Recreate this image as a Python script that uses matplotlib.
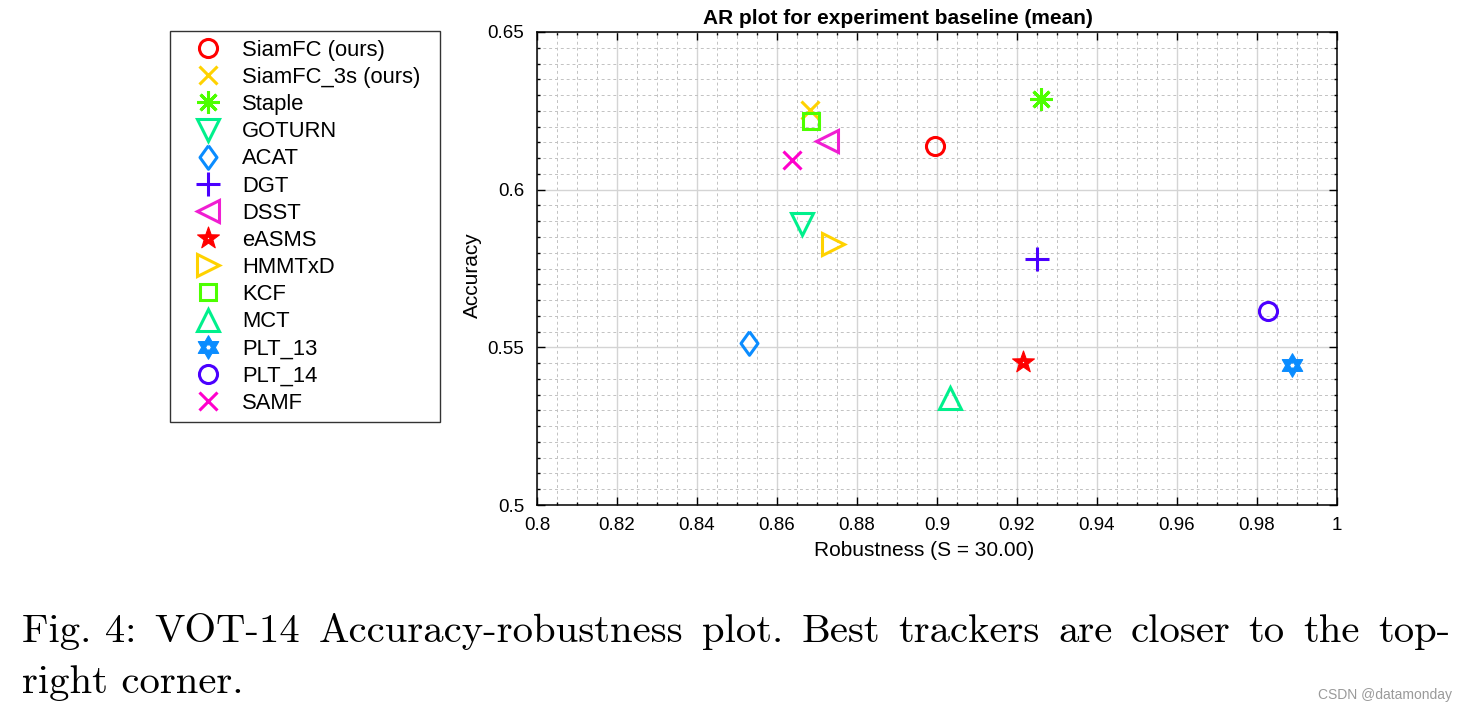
import numpy as np
import matplotlib
matplotlib.use("Agg")
import matplotlib.pyplot as plt
from matplotlib.path import Path
from matplotlib.ticker import MultipleLocator, FuncFormatter

# ---------------------------------------------------------------------
# data
# ---------------------------------------------------------------------
trackers = ["SiamFC (ours)", "SiamFC_3s (ours)", "Staple", "GOTURN", "ACAT",
            "DGT", "DSST", "eASMS", "HMMTxD", "KCF", "MCT", "PLT_13",
            "PLT_14", "SAMF"]
robustness = [0.8995, 0.8682, 0.9260, 0.8662, 0.8530, 0.9251, 0.8724,
              0.9216, 0.8740, 0.8685, 0.9033, 0.9888, 0.9828, 0.8638]
accuracy = [0.6138, 0.6254, 0.6287, 0.5891, 0.5515, 0.5779, 0.6155,
            0.5454, 0.5828, 0.6219, 0.5338, 0.5444, 0.5615, 0.6094]

x_ticks = [0.8, 0.82, 0.84, 0.86, 0.88, 0.9, 0.92, 0.94, 0.96, 0.98, 1.0]
y_ticks = [0.5, 0.55, 0.6, 0.65]


# ---------------------------------------------------------------------
# marker shapes (matlab-like pentagram / hexagram with small white hole)
# ---------------------------------------------------------------------
def star_with_hole(n, r_in, r_hole):
    k = np.arange(2 * n)
    ang = np.pi / 2 + k * np.pi / n
    rad = np.where(k % 2 == 0, 1.0, r_in)
    outer = np.column_stack([rad * np.cos(ang), rad * np.sin(ang)])
    hang = np.pi / 2 + np.pi / n + np.arange(n) * 2 * np.pi / n
    hole = np.column_stack([r_hole * np.cos(hang), r_hole * np.sin(hang)])[::-1]
    verts = np.vstack([outer, outer[:1], hole, hole[:1]])
    codes = ([Path.MOVETO] + [Path.LINETO] * (2 * n - 1) + [Path.CLOSEPOLY] +
             [Path.MOVETO] + [Path.LINETO] * (n - 1) + [Path.CLOSEPOLY])
    return Path(verts, codes)


pentagram = star_with_hole(5, 0.40, 0.13)
hexagram = star_with_hole(6, 0.577, 0.25)
diamond = [(0, 1), (0.72, 0), (0, -1), (-0.72, 0), (0, 1)]

markers = ["o", "x", (8, 2, 0), "v", diamond, "+", "<", pentagram, ">", "s",
           "^", hexagram, "o", "x"]
sizes = [13, 12.5, 16, 16, 17, 17, 16, 16.5, 16, 11.5, 16, 17, 13, 12.5]
filled = [False, False, False, False, False, False, False, True, False,
          False, False, True, False, False]
colors = ["#FF0000", "#FFD200", "#4DFF00", "#00F08C", "#0A8CFF", "#4B00FF",
          "#F01ED2", "#FF0000", "#FFD200", "#4DFF00", "#00F08C", "#0A8CFF",
          "#4B00FF", "#FF00CC"]

plt.rcParams["font.family"] = ["Liberation Sans", "DejaVu Sans"]

W, H = 1467, 713
fig = plt.figure(figsize=(W / 100, H / 100), dpi=100)
ax = fig.add_axes([537 / W, 1 - 505 / H, 800 / W, 473 / H])

handles = []
for name, xv, yv, m, s, f, c in zip(trackers, robustness, accuracy, markers,
                                    sizes, filled, colors):
    h, = ax.plot([xv], [yv], linestyle="none", marker=m, markersize=s,
                 markerfacecolor=c if f else "none", markeredgecolor=c,
                 markeredgewidth=0.8 if f else 2.2, label=name, zorder=3)
    handles.append(h)

ax.set_xlim(0.8, 1.0)
ax.set_ylim(0.5, 0.65)
ax.set_xticks(x_ticks)
ax.set_yticks(y_ticks)
fmt = FuncFormatter(lambda v, p: f"{v:g}")
ax.xaxis.set_major_formatter(fmt)
ax.yaxis.set_major_formatter(fmt)
ax.xaxis.set_minor_locator(MultipleLocator(0.005))
ax.yaxis.set_minor_locator(MultipleLocator(0.005))

ax.tick_params(which="both", direction="in", top=True, right=True,
               labelsize=13.5, width=1, color="black")
ax.tick_params(which="major", length=6, pad=9)
ax.tick_params(which="minor", length=2.5)
for sp in ax.spines.values():
    sp.set_linewidth(1.1)
    sp.set_color("black")

ax.grid(which="major", color="#d4d4d4", linestyle="-", linewidth=1.0, zorder=0)
ax.grid(which="minor", color="#c2c2c2", linestyle=(0, (3, 3)), linewidth=0.7, zorder=0)
ax.set_axisbelow(True)

ax.set_title("AR plot for experiment baseline (mean)", fontsize=15,
             fontweight="bold", x=(898 - 537) / 800, pad=6)
ax.set_xlabel("Robustness (S = 30.00)", fontsize=15, va="center")
ax.xaxis.set_label_coords((924 - 537) / 800, -(551 - 505) / 473)
ax.set_ylabel("Accuracy", fontsize=15, va="center")
ax.yaxis.set_label_coords(-(537 - 472) / 800, (505 - 275) / 473)

leg = fig.legend(handles=handles, loc="upper left",
                 bbox_to_anchor=(170 / W, 1 - 31 / H, 270 / W, 0.0),
                 mode="expand", borderaxespad=0, fontsize=15.8,
                 frameon=True, fancybox=False, borderpad=0.4,
                 labelspacing=0.28, handlelength=2.67, handletextpad=0.22,
                 numpoints=1)
leg.get_frame().set_edgecolor("black")
leg.get_frame().set_linewidth(1.0)

# ---------------------------------------------------------------------
# caption (first line justified between the margins)
# ---------------------------------------------------------------------
cap_words = ["Fig. 4:", "VOT-14", "Accuracy-robustness", "plot.", "Best",
             "trackers", "are", "closer", "to", "the", "top-"]
cap_kw = dict(fontfamily="cmr10", fontsize=29.3, ha="left", va="center")
renderer = fig.canvas.get_renderer()
word_texts = [fig.text(0, 1 - 632 / H, w, **cap_kw) for w in cap_words]
widths = [t.get_window_extent(renderer).width for t in word_texts]
gap = (1450 - 22 - sum(widths)) / (len(cap_words) - 1)
xpos = 22
for t, wd in zip(word_texts, widths):
    t.set_x(xpos / W)
    xpos += wd + gap
fig.text(22 / W, 1 - 683 / H, "right corner.", **cap_kw)

fig.text(1452 / W, 1 - 695 / H, "CSDN @datamonday", fontsize=10,
         color="#9a9a9a", ha="right", va="center")

fig.savefig("out.png", dpi=100)
